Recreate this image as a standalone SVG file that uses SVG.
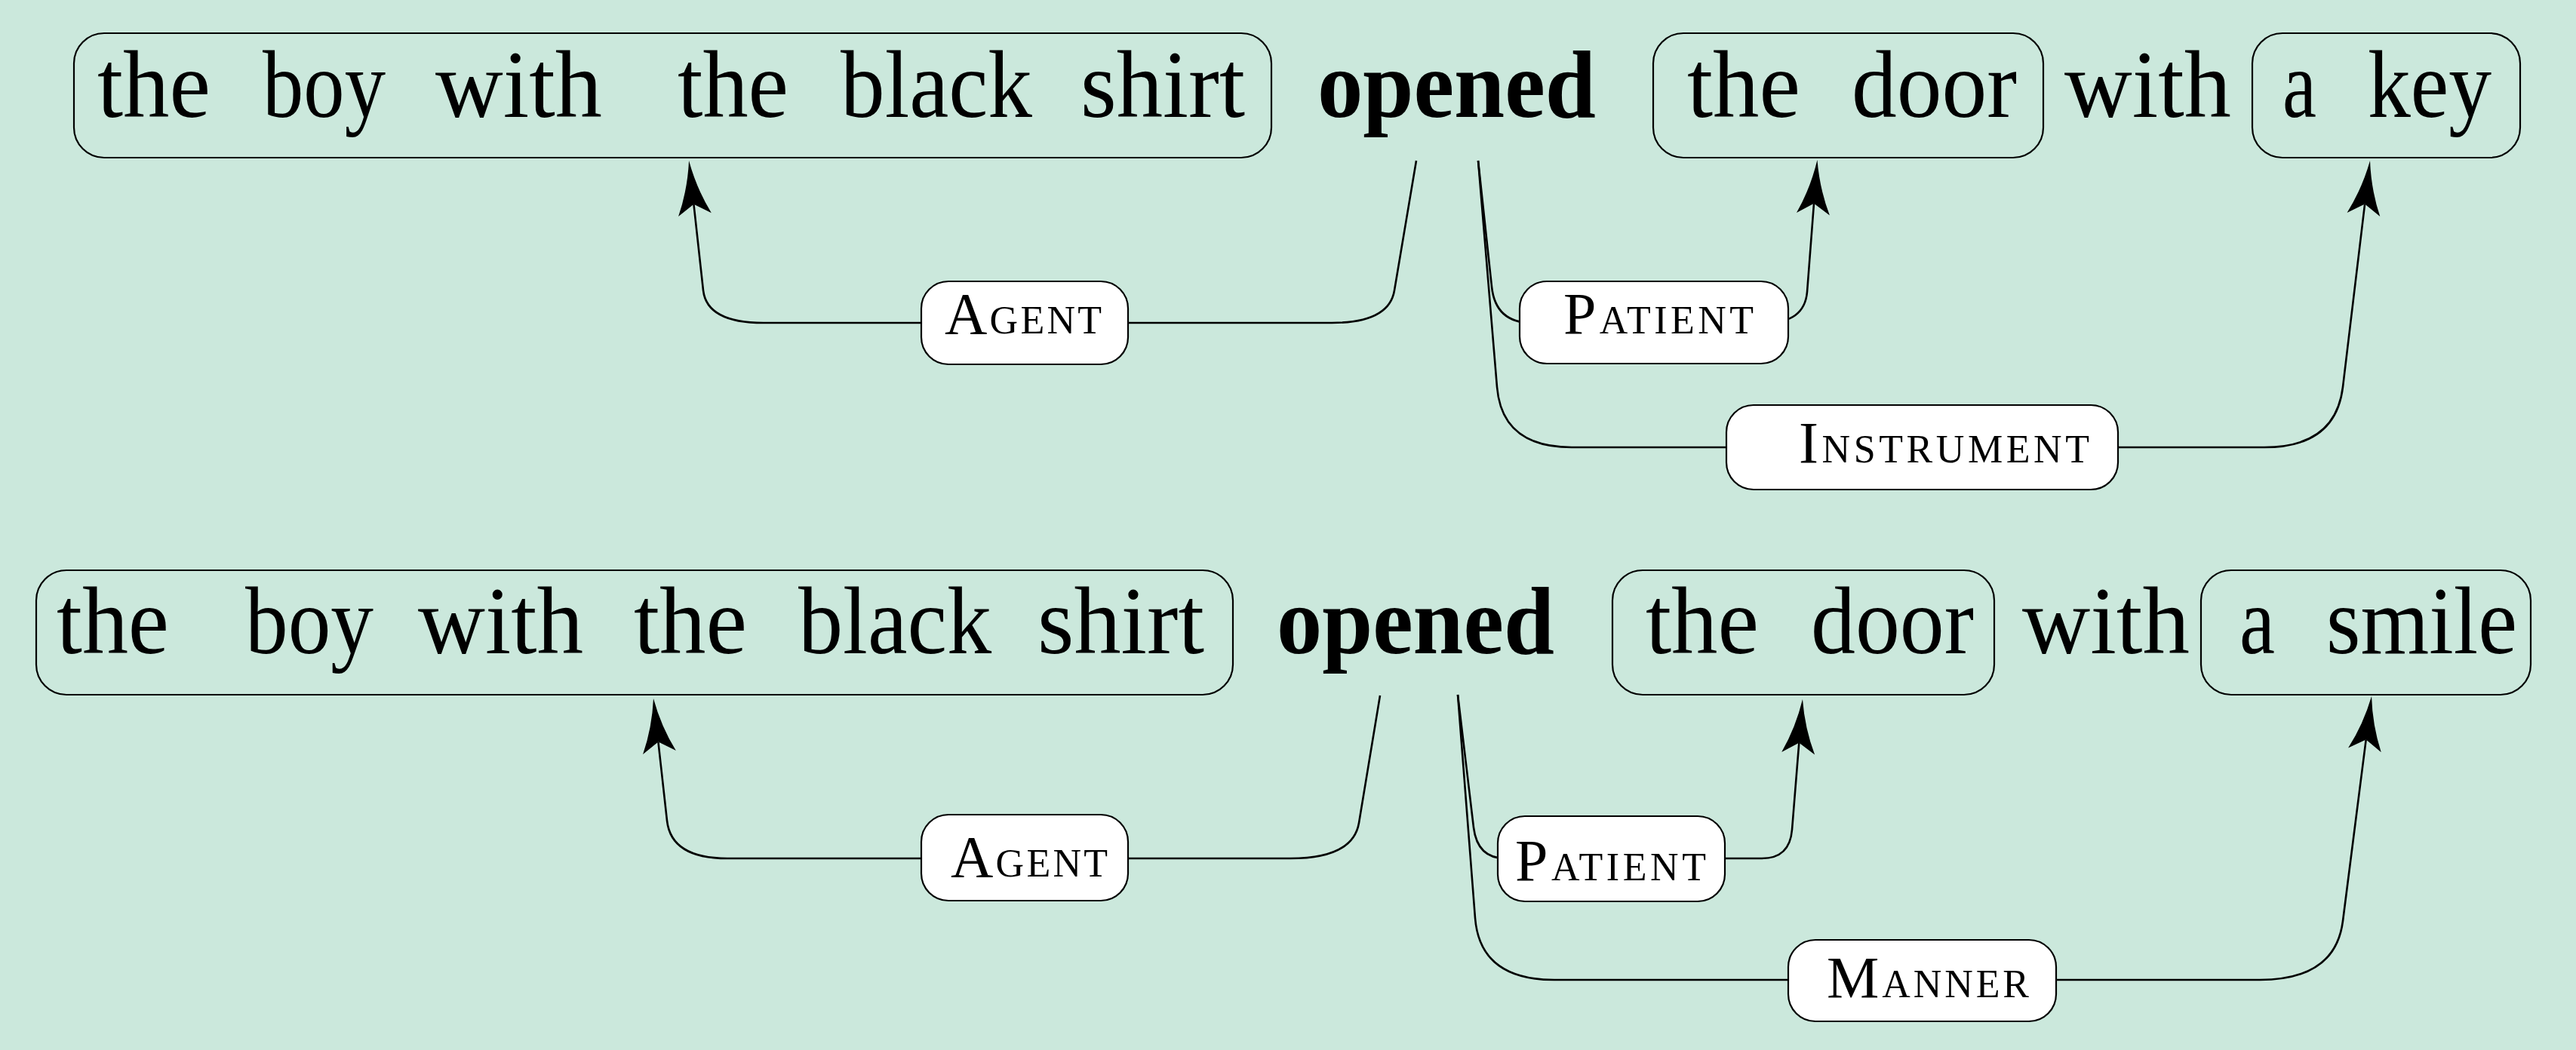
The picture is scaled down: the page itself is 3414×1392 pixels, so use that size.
<svg xmlns="http://www.w3.org/2000/svg" width="3414" height="1392" viewBox="0 0 3414 1392">
<style>
.w{font-family:"Liberation Serif","Times New Roman",serif;font-size:128px;fill:#000}
.b{font-weight:bold}
.box{fill:none;stroke:#000;stroke-width:2.2}
.lbox{fill:#fff;stroke:#000;stroke-width:2.2}
.lt{font-family:"Liberation Serif","Times New Roman",serif;fill:#000}
.cap{font-size:78px}
.sc{font-size:52px}
.c{fill:none;stroke:#000;stroke-width:2.6}
</style>
<defs>
<marker id="arr" markerUnits="userSpaceOnUse" orient="auto" overflow="visible" refX="0" refY="0" markerWidth="10" markerHeight="10">
<path d="M58,0 Q20,-6 -14,-22 L0,0 L-14,22 Q20,6 58,0 Z" fill="#000"/>
</marker>
</defs>
<rect x="0" y="0" width="3414" height="1392" fill="#cbe8dc"/>

<g id="connectors">
<path class="c" marker-end="url(#arr)" d="M1877,213 L1848,385 Q1841,428 1765,428 L1012,428 Q937,428 932,385 L919.4,270.7"/>
<path class="c" marker-end="url(#arr)" d="M1959,213 L1977,380 Q1982,428 2030,428 L2340,428 Q2391.5,428 2395,387 L2404,269.8"/>
<path class="c" marker-end="url(#arr)" d="M1959,213 L1984,513 Q1990.6,593 2083,593 L3001,593 Q3095.4,593 3105,513 L3134.1,270.6"/>
<path class="c" marker-end="url(#arr)" d="M1829,922 L1801,1091 Q1793,1138 1710,1138 L964,1138 Q889.6,1138 884,1088 L872.4,983.6"/>
<path class="c" marker-end="url(#arr)" d="M1932,921 L1953,1097 Q1958,1138 1995,1138 L2335,1138 Q2371.9,1138 2375,1100 L2384.3,984.8"/>
<path class="c" marker-end="url(#arr)" d="M1932,921 L1955,1217 Q1961.4,1299 2060,1299 L2995,1299 Q3095.1,1299 3105,1221 L3135.7,980.5"/>
</g>

<g id="s1-subject">
<rect class="box" x="98" y="44" width="1587" height="165" rx="40"/>
<text class="w" x="129" y="155" textLength="150" lengthAdjust="spacingAndGlyphs">the</text>
<text class="w" x="348" y="155" textLength="163" lengthAdjust="spacingAndGlyphs">boy</text>
<text class="w" x="577" y="155" textLength="221" lengthAdjust="spacingAndGlyphs">with</text>
<text class="w" x="898" y="155" textLength="147" lengthAdjust="spacingAndGlyphs">the</text>
<text class="w" x="1114" y="155" textLength="254" lengthAdjust="spacingAndGlyphs">black</text>
<text class="w" x="1432" y="155" textLength="218" lengthAdjust="spacingAndGlyphs">shirt</text>
</g>
<g id="s1-verb">
<text class="w b" x="1746" y="155" textLength="369" lengthAdjust="spacingAndGlyphs">opened</text>
</g>
<g id="s1-object">
<rect class="box" x="2191" y="44" width="517" height="165" rx="40"/>
<text class="w" x="2236" y="155" textLength="150" lengthAdjust="spacingAndGlyphs">the</text>
<text class="w" x="2454" y="155" textLength="219" lengthAdjust="spacingAndGlyphs">door</text>
</g>
<g id="s1-with">
<text class="w" x="2736" y="155" textLength="221" lengthAdjust="spacingAndGlyphs">with</text>
</g>
<g id="s1-instr">
<rect class="box" x="2985" y="44" width="355" height="165" rx="40"/>
<text class="w" x="3025" y="155" textLength="45" lengthAdjust="spacingAndGlyphs">a</text>
<text class="w" x="3138" y="155" textLength="164" lengthAdjust="spacingAndGlyphs">key</text>
</g>
<g id="s1-agent-label">
<rect class="lbox" x="1221" y="373" width="274" height="110" rx="36"/>
<text class="lt" x="1252" y="442" textLength="208" lengthAdjust="spacing"><tspan class="cap">A</tspan><tspan class="sc">GENT</tspan></text>
</g>
<g id="s1-patient-label">
<rect class="lbox" x="2014" y="373" width="356" height="109" rx="36"/>
<text class="lt" x="2072" y="442" textLength="252" lengthAdjust="spacing"><tspan class="cap">P</tspan><tspan class="sc">ATIENT</tspan></text>
</g>
<g id="s1-instrument-label">
<rect class="lbox" x="2288" y="537" width="519" height="112" rx="36"/>
<text class="lt" x="2384" y="613" textLength="385" lengthAdjust="spacing"><tspan class="cap">I</tspan><tspan class="sc">NSTRUMENT</tspan></text>
</g>

<g id="s2-subject">
<rect class="box" x="48" y="756" width="1586" height="165" rx="40"/>
<text class="w" x="75" y="866" textLength="149" lengthAdjust="spacingAndGlyphs">the</text>
<text class="w" x="325" y="866" textLength="170" lengthAdjust="spacingAndGlyphs">boy</text>
<text class="w" x="554" y="866" textLength="219" lengthAdjust="spacingAndGlyphs">with</text>
<text class="w" x="840" y="866" textLength="150" lengthAdjust="spacingAndGlyphs">the</text>
<text class="w" x="1058" y="866" textLength="256" lengthAdjust="spacingAndGlyphs">black</text>
<text class="w" x="1375" y="866" textLength="221" lengthAdjust="spacingAndGlyphs">shirt</text>
</g>
<g id="s2-verb">
<text class="w b" x="1692" y="866" textLength="368" lengthAdjust="spacingAndGlyphs">opened</text>
</g>
<g id="s2-object">
<rect class="box" x="2137" y="756" width="506" height="165" rx="40"/>
<text class="w" x="2181" y="866" textLength="150" lengthAdjust="spacingAndGlyphs">the</text>
<text class="w" x="2400" y="866" textLength="216" lengthAdjust="spacingAndGlyphs">door</text>
</g>
<g id="s2-with">
<text class="w" x="2680" y="866" textLength="222" lengthAdjust="spacingAndGlyphs">with</text>
</g>
<g id="s2-manner">
<rect class="box" x="2917" y="756" width="437" height="165" rx="40"/>
<text class="w" x="2968" y="866" textLength="47" lengthAdjust="spacingAndGlyphs">a</text>
<text class="w" x="3083" y="866" textLength="253" lengthAdjust="spacingAndGlyphs">smile</text>
</g>
<g id="s2-agent-label">
<rect class="lbox" x="1221" y="1080" width="274" height="114" rx="36"/>
<text class="lt" x="1260" y="1162" textLength="208" lengthAdjust="spacing"><tspan class="cap">A</tspan><tspan class="sc">GENT</tspan></text>
</g>
<g id="s2-patient-label">
<rect class="lbox" x="1985" y="1082" width="301" height="113" rx="36"/>
<text class="lt" x="2008" y="1167" textLength="253" lengthAdjust="spacing"><tspan class="cap">P</tspan><tspan class="sc">ATIENT</tspan></text>
</g>
<g id="s2-manner-label">
<rect class="lbox" x="2370" y="1246" width="355" height="108" rx="36"/>
<text class="lt" x="2421" y="1322" textLength="268" lengthAdjust="spacing"><tspan class="cap">M</tspan><tspan class="sc">ANNER</tspan></text>
</g>
</svg>
